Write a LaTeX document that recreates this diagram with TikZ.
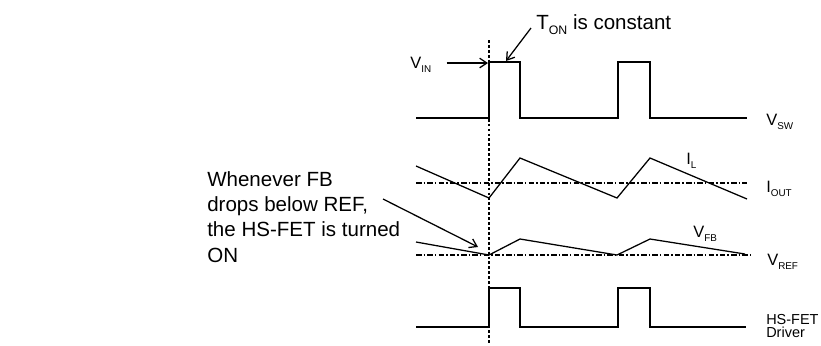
\documentclass[tikz,border=0pt]{standalone}
\usepackage{fontspec}
\setmainfont{Liberation Sans}
\usepackage{graphicx}
\usetikzlibrary{arrows.meta}

\newcommand{\lowsub}[1]{\raisebox{-.25em}{\scalebox{.6}{#1}}}

\tikzset{
  wave/.style={line width=.9pt},
  refline/.style={line width=.8pt, dash pattern=on 4pt off 1.5pt on 1pt off 1.5pt},
  trigger/.style={line width=.8pt, dash pattern=on 2pt off 1.5pt},
  pointer/.style={line width=.9pt, -{Straight Barb[length=1.8mm,width=2.4mm]}},
  siglabel/.style={anchor=base west, inner sep=0pt, font=\fontsize{11.7}{12}\selectfont},
  drvlabel/.style={anchor=base west, inner sep=0pt, align=left, font=\fontsize{10.3}{8.9}\selectfont},
  bigtext/.style={inner sep=0pt, font=\fontsize{14.6}{18}\selectfont}
}

\begin{document}
\begin{tikzpicture}[x=0.025cm,y=-0.025cm]
  \useasboundingbox (0,0) rectangle (821,345);

  % trigger instant
  \draw[trigger] (489,40) -- (489,345);

  % switch node
  \draw[wave] (416,118) -- (489,118) -- (489,62) -- (520,62) -- (520,118)
    -- (618,118) -- (618,62) -- (650,62) -- (650,118) -- (747,118);
  \node[siglabel] (vsw) at (766,125) {V\lowsub{SW}};
  \node[siglabel] (vin) at (410,68) {V\lowsub{IN}};
  \coordinate (vin tip) at (488,63);
  \draw[pointer] ([xshift=3.8mm]vin.east |- vin tip) -- (vin tip);

  \node[bigtext, anchor=base west] (ton) at (536,29) {T\lowsub{ON} is constant};
  \coordinate (ton tail) at (531,28);
  \coordinate (ton tip) at (506,61);
  \draw[pointer] (ton tail) -- (ton tip);

  % inductor current
  \draw[refline] (416,183) -- (747,183);
  \draw[wave] (416,166) -- (489,198) -- (520,158) -- (617,198) -- (650,158) -- (747,199);
  \node[siglabel] (il) at (686,164) {I\lowsub{L}};
  \node[siglabel] (iout) at (766,192) {I\lowsub{OUT}};

  % feedback
  \draw[refline] (416,255) -- (750,255);
  \draw[wave] (416,242) -- (489,255) -- (520,239) -- (617,255) -- (650,239) -- (745,254);
  \node[siglabel] (vfb) at (693,237) {V\lowsub{FB}};
  \node[siglabel] (vref) at (767,265) {V\lowsub{REF}};

  % HS-FET gate
  \draw[wave] (416,327) -- (489,327) -- (489,288) -- (520,288) -- (520,327)
    -- (618,327) -- (618,288) -- (650,288) -- (650,327) -- (746,327);
  \node[drvlabel] (drv) at (766,337) {HS-FET\\Driver};

  \node[bigtext, anchor=base west, align=left] (note) at (207,262)
    {Whenever FB\\drops below REF,\\the HS-FET is turned\\ON};
  \coordinate (note tail) at (383,199);
  \coordinate (note tip) at (478,247);
  \draw[pointer] (note tail) -- (note tip);
\end{tikzpicture}
\end{document}
